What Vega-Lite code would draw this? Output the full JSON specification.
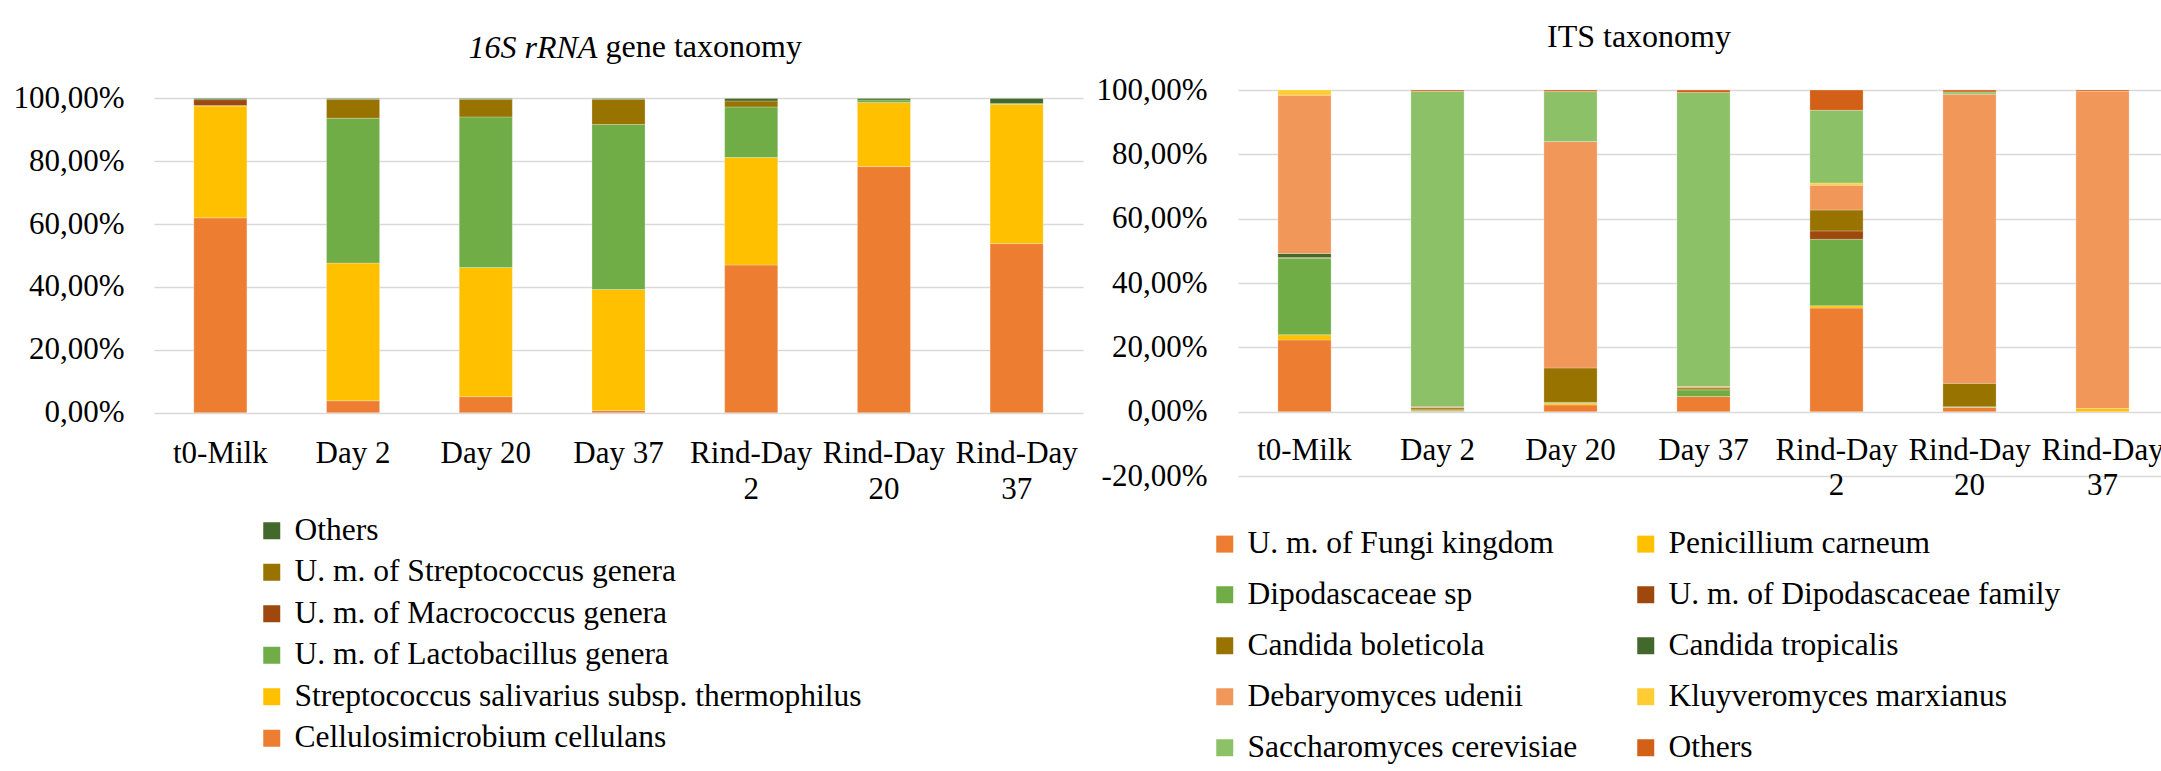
{
  "$schema": "https://vega.github.io/schema/vega-lite/v6.json",
  "background": "white",
  "padding": {"left": 12, "top": 21, "right": 0, "bottom": 0},
  "bounds": "flush",
  "spacing": 155,
  "resolve": {"scale": {"color": "independent"}, "legend": {"color": "independent"}},
  "title": {
    "text": "gene taxonomy",
    "frame": "group",
    "anchor": "start",
    "align": "left",
    "dx": 451.5,
    "offset": -42.5,
    "font": "Liberation Serif",
    "fontSize": 32,
    "fontStyle": "normal",
    "fontWeight": "normal",
    "color": "#000000"
  },
  "config": {
    "locale": {"number": {"decimal": ",", "thousands": ".", "grouping": [3], "currency": ["", " €"], "minus": "-"}},
    "font": "Liberation Serif",
    "view": {"stroke": null},
    "axis": {
      "labelFont": "Liberation Serif",
      "labelFontSize": 31,
      "labelColor": "#000000",
      "domain": false,
      "ticks": false,
      "gridColor": "#d9d9d9",
      "gridWidth": 1.5
    },
    "legend": {
      "labelFont": "Liberation Serif",
      "labelFontSize": 31.5,
      "labelColor": "#000000",
      "symbolType": "square",
      "symbolSize": 289,
      "symbolStrokeWidth": 0,
      "symbolOpacity": 1,
      "labelOffset": 7,
      "labelLimit": 1000,
      "padding": 0
    }
  },
  "hconcat": [
    {
      "width": 929,
      "height": 322.7,
      "title": {
        "text": "16S rRNA",
        "frame": "group",
        "anchor": "start",
        "align": "left",
        "dx": 314.5,
        "offset": 17,
        "font": "Liberation Serif",
        "fontSize": 32,
        "fontStyle": "italic",
        "fontWeight": "normal",
        "color": "#000000"
      },
      "data": {
        "values": [
          {"sample": "t0-Milk", "taxon": "Cellulosimicrobium cellulans", "share": 0.620},
          {"sample": "t0-Milk", "taxon": "Streptococcus salivarius subsp. thermophilus", "share": 0.356},
          {"sample": "t0-Milk", "taxon": "U. m. of Lactobacillus genera", "share": 0.001},
          {"sample": "t0-Milk", "taxon": "U. m. of Macrococcus genera", "share": 0.019},
          {"sample": "t0-Milk", "taxon": "Others", "share": 0.004},
          {"sample": "Day 2", "taxon": "Cellulosimicrobium cellulans", "share": 0.038},
          {"sample": "Day 2", "taxon": "Streptococcus salivarius subsp. thermophilus", "share": 0.438},
          {"sample": "Day 2", "taxon": "U. m. of Lactobacillus genera", "share": 0.461},
          {"sample": "Day 2", "taxon": "U. m. of Streptococcus genera", "share": 0.060},
          {"sample": "Day 2", "taxon": "Others", "share": 0.003},
          {"sample": "Day 20", "taxon": "Cellulosimicrobium cellulans", "share": 0.051},
          {"sample": "Day 20", "taxon": "Streptococcus salivarius subsp. thermophilus", "share": 0.411},
          {"sample": "Day 20", "taxon": "U. m. of Lactobacillus genera", "share": 0.479},
          {"sample": "Day 20", "taxon": "U. m. of Streptococcus genera", "share": 0.056},
          {"sample": "Day 20", "taxon": "Others", "share": 0.003},
          {"sample": "Day 37", "taxon": "Cellulosimicrobium cellulans", "share": 0.007},
          {"sample": "Day 37", "taxon": "Streptococcus salivarius subsp. thermophilus", "share": 0.385},
          {"sample": "Day 37", "taxon": "U. m. of Lactobacillus genera", "share": 0.525},
          {"sample": "Day 37", "taxon": "U. m. of Streptococcus genera", "share": 0.080},
          {"sample": "Day 37", "taxon": "Others", "share": 0.003},
          {"sample": "Rind-Day 2", "taxon": "Cellulosimicrobium cellulans", "share": 0.470},
          {"sample": "Rind-Day 2", "taxon": "Streptococcus salivarius subsp. thermophilus", "share": 0.342},
          {"sample": "Rind-Day 2", "taxon": "U. m. of Lactobacillus genera", "share": 0.161},
          {"sample": "Rind-Day 2", "taxon": "U. m. of Streptococcus genera", "share": 0.019},
          {"sample": "Rind-Day 2", "taxon": "Others", "share": 0.008},
          {"sample": "Rind-Day 20", "taxon": "Cellulosimicrobium cellulans", "share": 0.783},
          {"sample": "Rind-Day 20", "taxon": "Streptococcus salivarius subsp. thermophilus", "share": 0.204},
          {"sample": "Rind-Day 20", "taxon": "U. m. of Lactobacillus genera", "share": 0.008},
          {"sample": "Rind-Day 20", "taxon": "Others", "share": 0.005},
          {"sample": "Rind-Day 37", "taxon": "Cellulosimicrobium cellulans", "share": 0.538},
          {"sample": "Rind-Day 37", "taxon": "Streptococcus salivarius subsp. thermophilus", "share": 0.443},
          {"sample": "Rind-Day 37", "taxon": "U. m. of Lactobacillus genera", "share": 0.003},
          {"sample": "Rind-Day 37", "taxon": "Others", "share": 0.016}
        ]
      },
      "transform": [
        {"calculate": "indexof(['Cellulosimicrobium cellulans', 'Streptococcus salivarius subsp. thermophilus', 'U. m. of Lactobacillus genera', 'U. m. of Macrococcus genera', 'U. m. of Streptococcus genera', 'Others'], datum.taxon)", "as": "stack_rank"}
      ],
      "mark": {"type": "bar", "stroke": "#ffffff", "strokeWidth": 0.5, "strokeOpacity": 0.5},
      "encoding": {
        "x": {
          "field": "sample",
          "type": "nominal",
          "scale": {"domain": ["t0-Milk", "Day 2", "Day 20", "Day 37", "Rind-Day 2", "Rind-Day 20", "Rind-Day 37"], "paddingInner": 0.6, "paddingOuter": 0.3},
          "axis": {
            "title": null,
            "labelAngle": 0,
            "labelPadding": 26,
            "labelLineHeight": 36,
            "labelOverlap": false,
            "labelBound": false,
            "labelFlush": false,
            "labelLimit": 1000,
            "grid": false,
            "labelExpr": "indexof(datum.label, 'Rind-Day') == 0 ? ['Rind-Day', replace(datum.label, 'Rind-Day ', '')] : datum.label"
          }
        },
        "y": {
          "field": "share",
          "type": "quantitative",
          "stack": "zero",
          "scale": {"domain": [0, 1.0267], "nice": false},
          "axis": {"title": null, "values": [0, 0.2, 0.4, 0.6, 0.8, 1], "format": ".2%", "grid": true, "labelPadding": 30}
        },
        "order": {"field": "stack_rank", "type": "quantitative", "sort": "ascending"},
        "color": {
          "field": "taxon",
          "type": "nominal",
          "scale": {
            "domain": ["Others", "U. m. of Streptococcus genera", "U. m. of Macrococcus genera", "U. m. of Lactobacillus genera", "Streptococcus salivarius subsp. thermophilus", "Cellulosimicrobium cellulans"],
            "range": ["#43682B", "#997300", "#9E480E", "#70AD47", "#FFC000", "#ED7D31"]
          },
          "legend": {"title": null, "orient": "none", "legendX": 102, "legendY": 425, "direction": "vertical", "rowPadding": 8.5}
        }
      }
    },
    {
      "width": 931,
      "height": 386,
      "title": {
        "text": "ITS taxonomy",
        "frame": "group",
        "anchor": "middle",
        "dx": -64.5,
        "offset": 19.6,
        "font": "Liberation Serif",
        "fontSize": 32,
        "fontWeight": "normal",
        "color": "#000000"
      },
      "data": {
        "values": [
          {"sample": "t0-Milk", "taxon": "U. m. of Fungi kingdom", "share": 0.223},
          {"sample": "t0-Milk", "taxon": "Penicillium carneum", "share": 0.016},
          {"sample": "t0-Milk", "taxon": "Dipodascaceae sp", "share": 0.238},
          {"sample": "t0-Milk", "taxon": "Candida boleticola", "share": 0.002},
          {"sample": "t0-Milk", "taxon": "Candida tropicalis", "share": 0.013},
          {"sample": "t0-Milk", "taxon": "Debaryomyces udenii", "share": 0.492},
          {"sample": "t0-Milk", "taxon": "Kluyveromyces marxianus", "share": 0.016},
          {"sample": "Day 2", "taxon": "U. m. of Fungi kingdom", "share": 0.002},
          {"sample": "Day 2", "taxon": "Penicillium carneum", "share": 0.001},
          {"sample": "Day 2", "taxon": "Dipodascaceae sp", "share": 0.003},
          {"sample": "Day 2", "taxon": "Candida boleticola", "share": 0.006},
          {"sample": "Day 2", "taxon": "Debaryomyces udenii", "share": 0.003},
          {"sample": "Day 2", "taxon": "Saccharomyces cerevisiae", "share": 0.981},
          {"sample": "Day 2", "taxon": "Others", "share": 0.004},
          {"sample": "Day 20", "taxon": "U. m. of Fungi kingdom", "share": 0.021},
          {"sample": "Day 20", "taxon": "Penicillium carneum", "share": 0.005},
          {"sample": "Day 20", "taxon": "Dipodascaceae sp", "share": 0.003},
          {"sample": "Day 20", "taxon": "Candida boleticola", "share": 0.107},
          {"sample": "Day 20", "taxon": "Debaryomyces udenii", "share": 0.704},
          {"sample": "Day 20", "taxon": "Saccharomyces cerevisiae", "share": 0.155},
          {"sample": "Day 20", "taxon": "Others", "share": 0.005},
          {"sample": "Day 37", "taxon": "U. m. of Fungi kingdom", "share": 0.047},
          {"sample": "Day 37", "taxon": "Dipodascaceae sp", "share": 0.021},
          {"sample": "Day 37", "taxon": "Candida boleticola", "share": 0.006},
          {"sample": "Day 37", "taxon": "Debaryomyces udenii", "share": 0.004},
          {"sample": "Day 37", "taxon": "Saccharomyces cerevisiae", "share": 0.914},
          {"sample": "Day 37", "taxon": "Others", "share": 0.008},
          {"sample": "Rind-Day 2", "taxon": "U. m. of Fungi kingdom", "share": 0.322},
          {"sample": "Rind-Day 2", "taxon": "Penicillium carneum", "share": 0.007},
          {"sample": "Rind-Day 2", "taxon": "Dipodascaceae sp", "share": 0.207},
          {"sample": "Rind-Day 2", "taxon": "U. m. of Dipodascaceae family", "share": 0.026},
          {"sample": "Rind-Day 2", "taxon": "Candida boleticola", "share": 0.065},
          {"sample": "Rind-Day 2", "taxon": "Debaryomyces udenii", "share": 0.077},
          {"sample": "Rind-Day 2", "taxon": "Kluyveromyces marxianus", "share": 0.007},
          {"sample": "Rind-Day 2", "taxon": "Saccharomyces cerevisiae", "share": 0.226},
          {"sample": "Rind-Day 2", "taxon": "Others", "share": 0.063},
          {"sample": "Rind-Day 20", "taxon": "U. m. of Fungi kingdom", "share": 0.013},
          {"sample": "Rind-Day 20", "taxon": "Dipodascaceae sp", "share": 0.002},
          {"sample": "Rind-Day 20", "taxon": "Candida boleticola", "share": 0.073},
          {"sample": "Rind-Day 20", "taxon": "Debaryomyces udenii", "share": 0.899},
          {"sample": "Rind-Day 20", "taxon": "Saccharomyces cerevisiae", "share": 0.007},
          {"sample": "Rind-Day 20", "taxon": "Others", "share": 0.006},
          {"sample": "Rind-Day 37", "taxon": "Penicillium carneum", "share": 0.010},
          {"sample": "Rind-Day 37", "taxon": "Debaryomyces udenii", "share": 0.986},
          {"sample": "Rind-Day 37", "taxon": "Others", "share": 0.004}
        ]
      },
      "transform": [
        {"calculate": "indexof(['U. m. of Fungi kingdom', 'Penicillium carneum', 'Dipodascaceae sp', 'U. m. of Dipodascaceae family', 'Candida boleticola', 'Candida tropicalis', 'Debaryomyces udenii', 'Kluyveromyces marxianus', 'Saccharomyces cerevisiae', 'Others'], datum.taxon)", "as": "stack_rank"}
      ],
      "mark": {"type": "bar", "stroke": "#ffffff", "strokeWidth": 0.5, "strokeOpacity": 0.5},
      "encoding": {
        "x": {
          "field": "sample",
          "type": "nominal",
          "scale": {"domain": ["t0-Milk", "Day 2", "Day 20", "Day 37", "Rind-Day 2", "Rind-Day 20", "Rind-Day 37"], "paddingInner": 0.6, "paddingOuter": 0.3},
          "axis": {
            "title": null,
            "offset": -64.3,
            "labelAngle": 0,
            "labelPadding": 24,
            "labelLineHeight": 35,
            "labelOverlap": false,
            "labelBound": false,
            "labelFlush": false,
            "labelLimit": 1000,
            "grid": false,
            "labelExpr": "indexof(datum.label, 'Rind-Day') == 0 ? ['Rind-Day', replace(datum.label, 'Rind-Day ', '')] : datum.label"
          }
        },
        "y": {
          "field": "share",
          "type": "quantitative",
          "stack": "zero",
          "scale": {"domain": [-0.2, 1], "nice": false, "zero": false},
          "axis": {"title": null, "values": [-0.2, 0, 0.2, 0.4, 0.6, 0.8, 1], "format": ".2%", "grid": true, "labelPadding": 31}
        },
        "order": {"field": "stack_rank", "type": "quantitative", "sort": "ascending"},
        "color": {
          "field": "taxon",
          "type": "nominal",
          "scale": {
            "domain": ["U. m. of Fungi kingdom", "Penicillium carneum", "Dipodascaceae sp", "U. m. of Dipodascaceae family", "Candida boleticola", "Candida tropicalis", "Debaryomyces udenii", "Kluyveromyces marxianus", "Saccharomyces cerevisiae", "Others"],
            "range": ["#ED7D31", "#FFC000", "#70AD47", "#9E480E", "#997300", "#43682B", "#F1975A", "#FFCD33", "#8CC168", "#D26016"]
          },
          "legend": {"title": null, "orient": "none", "legendX": -29, "legendY": 438, "columns": 2, "direction": "horizontal", "columnPadding": 52, "rowPadding": 18}
        }
      }
    }
  ]
}
